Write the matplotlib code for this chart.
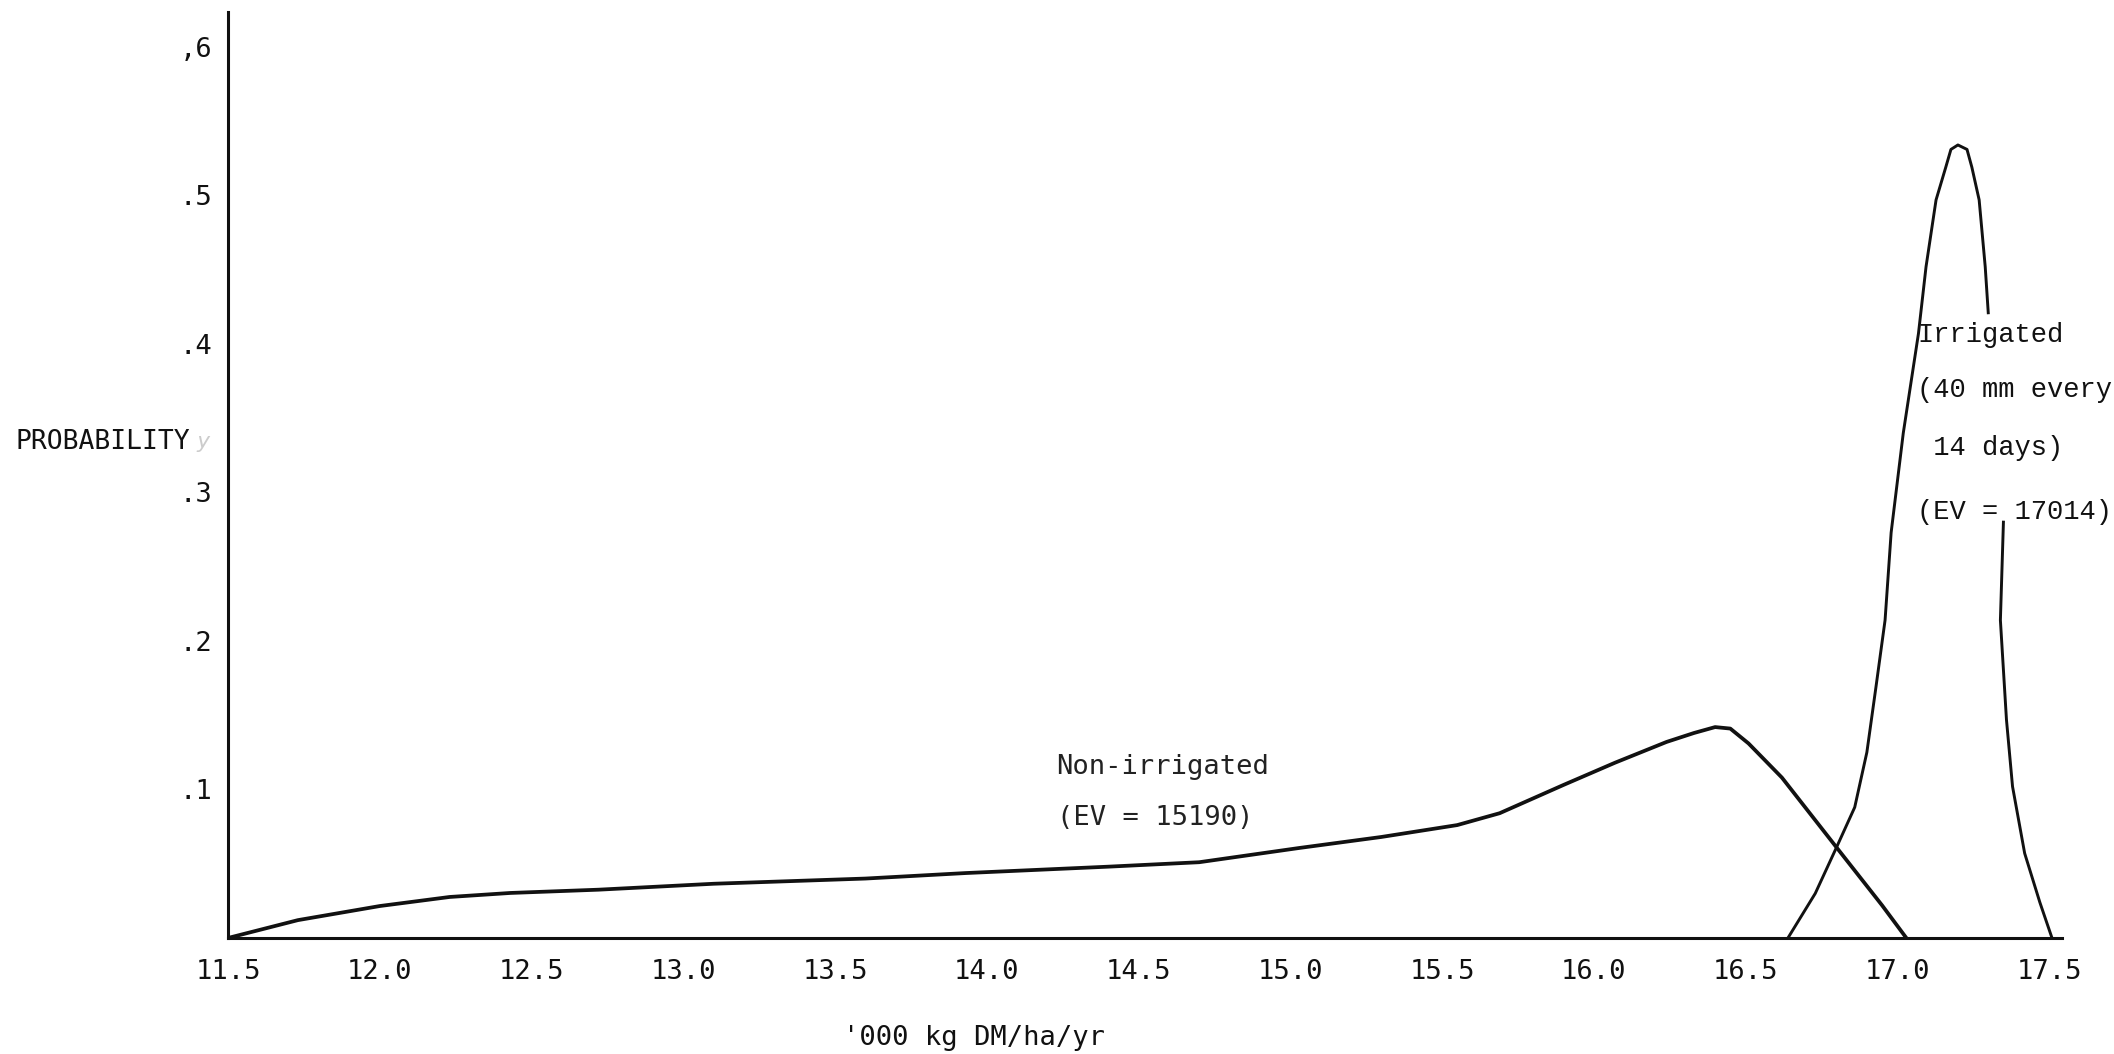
import numpy as np
import matplotlib
matplotlib.use("Agg")
from matplotlib import pyplot as plt

# yield ('000 kg DM/ha/yr) vs probability
non_irr_x = [11.5, 11.73, 12.0, 12.23, 12.43, 12.72, 13.1, 13.6, 13.93, 14.4, 14.7,
             15.03, 15.3, 15.55, 15.69, 15.9, 16.07, 16.24, 16.33, 16.4, 16.45, 16.51,
             16.62, 16.8, 16.95, 17.03]
non_irr_y = [0, 0.012, 0.0215, 0.0276, 0.0303, 0.0325, 0.0365, 0.040, 0.0437, 0.048,
             0.051, 0.0606, 0.068, 0.076, 0.084, 0.103, 0.118, 0.132, 0.138, 0.142,
             0.141, 0.131, 0.108, 0.061, 0.022, 0]

# gap on the right flank where the label is typed over the line
irr_x = [16.64, 16.73, 16.80, 16.86, 16.90, 16.93, 16.96, 16.98, 17.02, 17.07, 17.095,
         17.128, 17.16, 17.177, 17.20, 17.23, 17.246, 17.27, 17.29, 17.30, 17.32,
         17.35, 17.34, 17.36, 17.38, 17.42, 17.47, 17.51]
irr_y = [0, 0.030, 0.061, 0.088, 0.125, 0.169, 0.214, 0.273, 0.340, 0.407, 0.452,
         0.497, 0.519, 0.531, 0.534, 0.531, 0.519, 0.497, 0.452, 0.421, np.nan,
         0.280, 0.214, 0.147, 0.102, 0.057, 0.024, 0]

x_ticks = [11.5, 12.0, 12.5, 13.0, 13.5, 14.0, 14.5, 15.0, 15.5, 16.0, 16.5, 17.0, 17.5]
y_ticks = [0.1, 0.2, 0.3, 0.4, 0.5, 0.6]
y_tick_labels = [".1", ".2", ".3", ".4", ".5", ",6"]

mono = "DejaVu Sans Mono"
courier = "Liberation Mono"
ink = "#111111"

fig = plt.figure(figsize=(21.14, 10.54), dpi=100)
ax = fig.add_axes([0.1079, 0.1101, 0.8675, 0.8786])

ax.plot(non_irr_x, non_irr_y, color=ink, lw=2.7, solid_joinstyle="round")
ax.plot(irr_x, irr_y, color=ink, lw=2.1, solid_joinstyle="round")

ax.set_xlim(11.5, 17.543)
ax.set_ylim(0, 0.6236)

for s in ["top", "right"]:
    ax.spines[s].set_visible(False)
for s in ["left", "bottom"]:
    ax.spines[s].set_linewidth(2.2)
    ax.spines[s].set_color(ink)

ax.set_xticks(x_ticks)
ax.set_xticklabels([f"{v:.1f}" for v in x_ticks], fontfamily=mono, fontsize=19.5)
ax.set_yticks(y_ticks)
ax.set_yticklabels(y_tick_labels, fontfamily=mono, fontsize=19.5)
ax.tick_params(axis="x", length=0, pad=15, colors=ink)
ax.tick_params(axis="y", length=0, pad=11.5, colors=ink)

ax.text(14.23, 0.115, "Non-irrigated", fontfamily=mono, fontsize=19.5,
        va="center", ha="left", color="#222222")
ax.text(14.23, 0.081, "(EV = 15190)", fontfamily=mono, fontsize=19.5,
        va="center", ha="left", color="#222222")

ax.text(17.065, 0.406, "Irrigated", fontfamily=courier, fontsize=19.5,
        va="center", ha="left", color=ink)
ax.text(17.065, 0.369, "(40 mm every", fontfamily=courier, fontsize=19.5,
        va="center", ha="left", color=ink)
ax.text(17.065, 0.330, " 14 days)", fontfamily=courier, fontsize=19.5,
        va="center", ha="left", color=ink)
ax.text(17.065, 0.287, "(EV = 17014)", fontfamily=courier, fontsize=19.5,
        va="center", ha="left", color=ink)

fig.text(15 / 2114, 1 - 442 / 1054, "PROBABILITY", fontfamily=mono, fontsize=19,
         va="center", ha="left", color=ink)
fig.text(196 / 2114, 1 - 442 / 1054, "y", fontfamily=mono, fontsize=16, style="italic",
         va="center", ha="left", color="#cccccc")
fig.text(843 / 2114, 1 - 1038 / 1054, "'000 kg DM/ha/yr", fontfamily=mono, fontsize=19.5,
         va="center", ha="left", color=ink)

fig.savefig("out.png", dpi=100, facecolor="white")
